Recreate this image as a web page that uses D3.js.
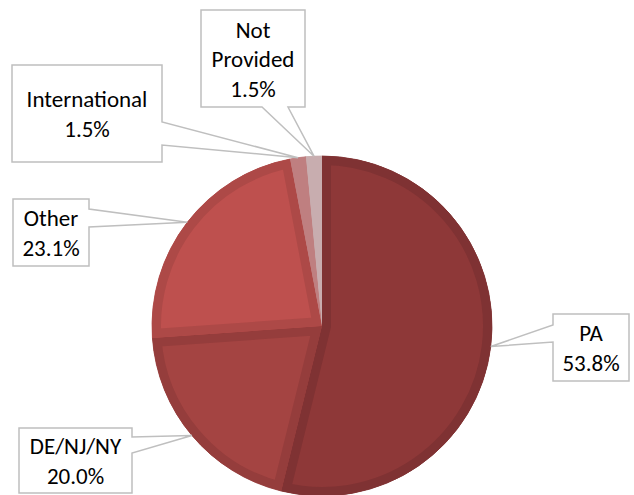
<!DOCTYPE html>
<html>
<head>
<meta charset="utf-8">
<script src="https://cdn.jsdelivr.net/npm/d3@7"></script>
<style>
  html, body { margin: 0; padding: 0; background: #fff; }
  svg { display: block; }
</style>
</head>
<body>
<svg id="chart" width="634" height="495"></svg>
<script>
// ---- data ----
const categories = ["PA", "DE/NJ/NY", "Other", "International", "Not Provided"];
const values = [53.8, 20.0, 23.1, 1.5, 1.5];
const labelLines = [["PA"], ["DE/NJ/NY"], ["Other"], ["International"], ["Not", "Provided"]];

// ---- styles ----
const fills   = ["#8E3838", "#A44442", "#BE504E", "#BF7F80", "#C8ADAF"];
const borders = ["#7F3233", "#953D3C", "#AD4947", "#BF7F80", "#C8ADAF"];

// ---- layout of callout boxes (x, y, w, h, side of wedge, gap start/end) ----
const boxes = [
  {x: 553, y: 314, w: 76,  h: 67, side: "left",   g0: 325, g1: 342},
  {x: 19,  y: 428, w: 113, h: 65, side: "right",  g0: 437, g1: 453},
  {x: 13,  y: 199, w: 76,  h: 67, side: "right",  g0: 209, g1: 227},
  {x: 12,  y: 65,  w: 150, h: 97, side: "right",  g0: 122, g1: 145},
  {x: 201, y: 10,  w: 104, h: 97, side: "bottom", g0: 262, g1: 288}
];

const cx = 322, cy = 326, R = 170, bw = 9;
const svg = d3.select("#chart");
const g = svg.append("g").attr("transform", `translate(${cx},${cy})`);

const pie = d3.pie().sort(null).value(d => d.v);
const arcs = pie(categories.map((c, i) => ({c, v: values[i], i})));
const arc = d3.arc().innerRadius(0).outerRadius(R);

const defs = svg.append("defs");
arcs.forEach((a, i) => {
  defs.append("clipPath").attr("id", "clip" + i)
    .append("path").attr("d", arc(a));
});

// underlay to avoid seams between adjacent slices
g.selectAll("path.under").data(arcs).join("path")
  .attr("class", "under")
  .attr("d", arc)
  .attr("fill", (d, i) => borders[i])
  .attr("stroke", (d, i) => borders[i])
  .attr("stroke-width", 0.8);

g.selectAll("path.slice").data(arcs).join("path")
  .attr("class", "slice")
  .attr("d", arc)
  .attr("clip-path", (d, i) => `url(#clip${i})`)
  .attr("fill", (d, i) => fills[i])
  .attr("stroke", (d, i) => borders[i])
  .attr("stroke-width", bw * 2)
  .attr("stroke-linejoin", "miter");

// ---- callouts ----
const fmt = d3.format(".1f");
const lineH = 29.5;

arcs.forEach((a, i) => {
  const b = boxes[i];
  const ang = (a.startAngle + a.endAngle) / 2;
  const ax = cx + R * Math.sin(ang), ay = cy - R * Math.cos(ang);
  const x0 = b.x, y0 = b.y, x1 = b.x + b.w, y1 = b.y + b.h;
  let p = d3.path();
  if (b.side === "left") {
    p.moveTo(x0, y0); p.lineTo(x1, y0); p.lineTo(x1, y1); p.lineTo(x0, y1);
    p.lineTo(x0, b.g1); p.lineTo(ax, ay); p.lineTo(x0, b.g0); p.closePath();
  } else if (b.side === "right") {
    p.moveTo(x0, y0); p.lineTo(x1, y0); p.lineTo(x1, b.g0); p.lineTo(ax, ay);
    p.lineTo(x1, b.g1); p.lineTo(x1, y1); p.lineTo(x0, y1); p.closePath();
  } else {
    p.moveTo(x0, y0); p.lineTo(x1, y0); p.lineTo(x1, y1); p.lineTo(b.g1, y1);
    p.lineTo(ax, ay); p.lineTo(b.g0, y1); p.lineTo(x0, y1); p.closePath();
  }
  svg.append("path").attr("d", p.toString())
    .attr("fill", "#fff").attr("stroke", "#BFBFBF").attr("stroke-width", 1.5)
    .attr("stroke-linejoin", "miter");

  const lines = labelLines[i].concat([fmt(values[i]) + "%"]);
  const n = lines.length;
  const mid = b.y + b.h / 2 + 8.5;
  const t = svg.append("text")
    .attr("text-anchor", "middle")
    .attr("font-family", "Carlito, Lato, 'Open Sans', sans-serif")
    .attr("font-size", 23)
    .attr("fill", "#000");
  lines.forEach((ln, k) => {
    t.append("tspan").attr("x", b.x + b.w / 2)
      .attr("y", mid + (k - (n - 1) / 2) * lineH)
      .text(ln);
  });
});
</script>
</body>
</html>
